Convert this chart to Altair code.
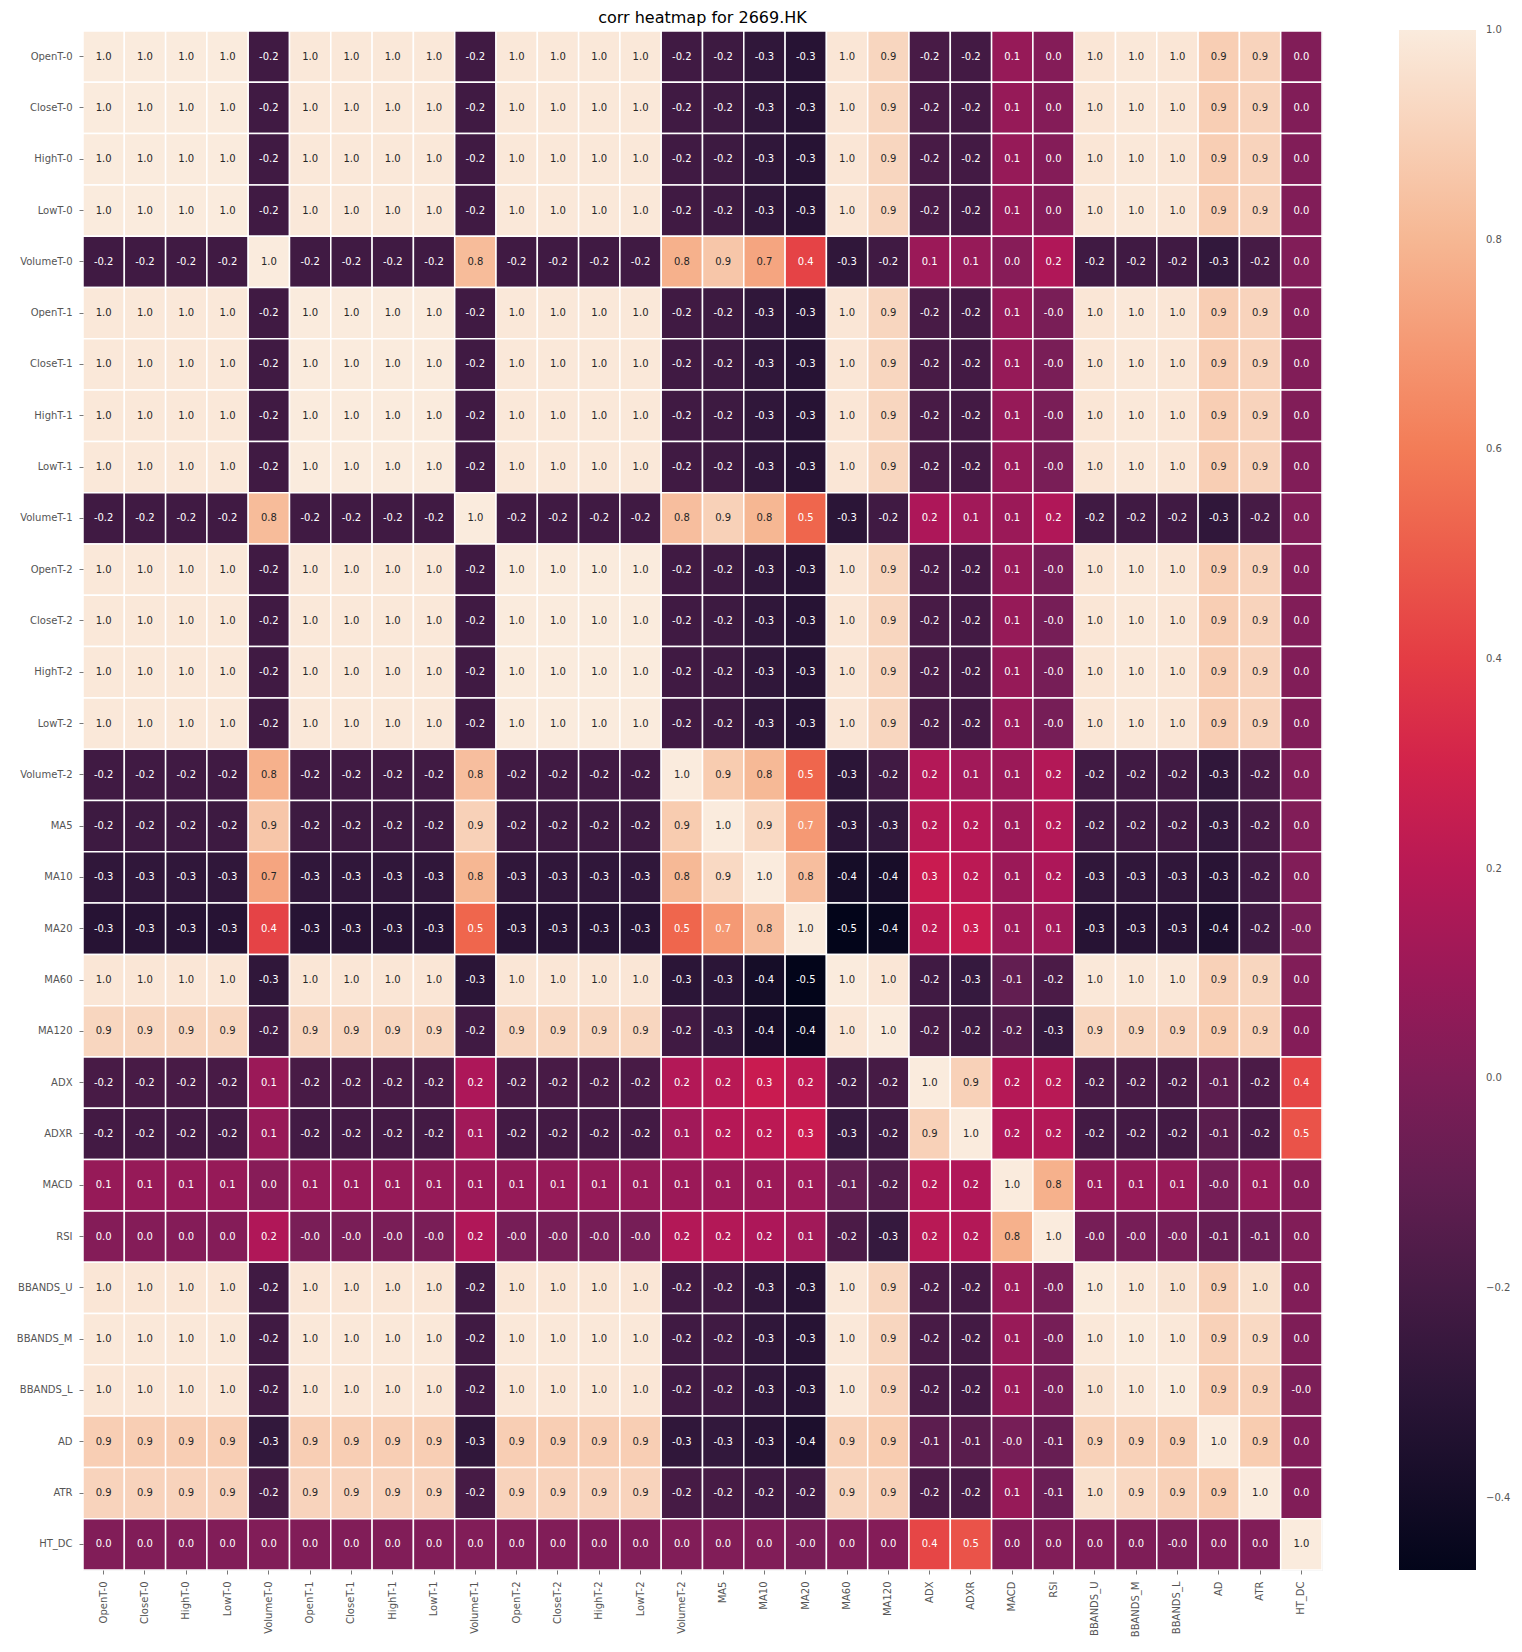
import altair as alt
import pandas as pd

labels = ["OpenT-0", "CloseT-0", "HighT-0", "LowT-0", "VolumeT-0",
          "OpenT-1", "CloseT-1", "HighT-1", "LowT-1", "VolumeT-1",
          "OpenT-2", "CloseT-2", "HighT-2", "LowT-2", "VolumeT-2",
          "MA5", "MA10", "MA20", "MA60", "MA120",
          "ADX", "ADXR", "MACD", "RSI",
          "BBANDS_U", "BBANDS_M", "BBANDS_L", "AD", "ATR", "HT_DC"]

# correlation rows (column order = labels)
row_price_t0 = [1.00, 1.00, 1.00, 1.00, -0.22, 0.99, 0.99, 0.99, 0.99, -0.22, 0.99, 0.99, 0.99, 0.99, -0.22,
                -0.23, -0.28, -0.32, 0.98, 0.92, -0.19, -0.21, 0.08, 0.02, 0.98, 0.99, 0.98, 0.89, 0.91, 0.01]
row_price_t1 = [0.99, 0.99, 0.99, 0.99, -0.22, 1.00, 1.00, 1.00, 1.00, -0.22, 0.99, 0.99, 0.99, 0.99, -0.22,
                -0.23, -0.28, -0.32, 0.98, 0.92, -0.19, -0.21, 0.08, -0.02, 0.98, 0.99, 0.98, 0.89, 0.91, 0.01]
row_price_t2 = [0.99, 0.99, 0.99, 0.99, -0.22, 0.99, 0.99, 0.99, 0.99, -0.22, 1.00, 1.00, 1.00, 1.00, -0.22,
                -0.23, -0.28, -0.32, 0.98, 0.92, -0.19, -0.21, 0.08, -0.03, 0.98, 0.99, 0.98, 0.89, 0.91, 0.01]
row_volume_t0 = [-0.22, -0.22, -0.22, -0.22, 1.00, -0.22, -0.22, -0.22, -0.22, 0.82, -0.22, -0.22, -0.22, -0.22, 0.78,
                 0.86, 0.74, 0.42, -0.28, -0.22, 0.10, 0.08, 0.03, 0.17, -0.22, -0.22, -0.22, -0.27, -0.20, 0.01]
row_volume_t1 = [-0.22, -0.22, -0.22, -0.22, 0.82, -0.22, -0.22, -0.22, -0.22, 1.00, -0.22, -0.22, -0.22, -0.22, 0.83,
                 0.90, 0.80, 0.53, -0.30, -0.22, 0.16, 0.12, 0.10, 0.17, -0.22, -0.22, -0.22, -0.28, -0.20, 0.01]
row_volume_t2 = [-0.22, -0.22, -0.22, -0.22, 0.78, -0.22, -0.22, -0.22, -0.22, 0.83, -0.22, -0.22, -0.22, -0.22, 1.00,
                 0.88, 0.81, 0.53, -0.30, -0.22, 0.18, 0.12, 0.10, 0.18, -0.22, -0.22, -0.22, -0.28, -0.20, 0.01]
row_ma5 = [-0.23, -0.23, -0.23, -0.23, 0.86, -0.23, -0.23, -0.23, -0.23, 0.90, -0.23, -0.23, -0.23, -0.23, 0.88,
           1.00, 0.93, 0.70, -0.30, -0.27, 0.20, 0.19, 0.10, 0.18, -0.22, -0.22, -0.22, -0.27, -0.20, 0.01]
row_ma10 = [-0.28, -0.28, -0.28, -0.28, 0.74, -0.28, -0.28, -0.28, -0.28, 0.80, -0.28, -0.28, -0.28, -0.28, 0.81,
            0.93, 1.00, 0.83, -0.39, -0.38, 0.26, 0.21, 0.10, 0.16, -0.28, -0.28, -0.28, -0.31, -0.22, 0.01]
row_ma20 = [-0.32, -0.32, -0.32, -0.32, 0.42, -0.32, -0.32, -0.32, -0.32, 0.53, -0.32, -0.32, -0.32, -0.32, 0.53,
            0.70, 0.83, 1.00, -0.47, -0.44, 0.22, 0.26, 0.10, 0.12, -0.32, -0.32, -0.32, -0.36, -0.22, -0.02]
row_ma60 = [0.98, 0.98, 0.98, 0.98, -0.28, 0.98, 0.98, 0.98, 0.98, -0.30, 0.98, 0.98, 0.98, 0.98, -0.30,
            -0.30, -0.39, -0.47, 1.00, 0.98, -0.22, -0.26, -0.10, -0.18, 0.99, 0.99, 0.99, 0.90, 0.92, 0.01]
row_ma120 = [0.92, 0.92, 0.92, 0.92, -0.22, 0.92, 0.92, 0.92, 0.92, -0.22, 0.92, 0.92, 0.92, 0.92, -0.22,
             -0.27, -0.38, -0.44, 0.98, 1.00, -0.20, -0.23, -0.16, -0.26, 0.92, 0.92, 0.91, 0.88, 0.90, 0.02]
row_adx = [-0.19, -0.19, -0.19, -0.19, 0.10, -0.19, -0.19, -0.19, -0.19, 0.16, -0.19, -0.19, -0.19, -0.19, 0.18,
           0.20, 0.26, 0.22, -0.22, -0.20, 1.00, 0.90, 0.19, 0.20, -0.19, -0.19, -0.19, -0.12, -0.18, 0.43]
row_adxr = [-0.21, -0.21, -0.21, -0.21, 0.08, -0.21, -0.21, -0.21, -0.21, 0.12, -0.21, -0.21, -0.21, -0.21, 0.12,
            0.19, 0.21, 0.26, -0.26, -0.23, 0.90, 1.00, 0.17, 0.18, -0.21, -0.21, -0.21, -0.13, -0.19, 0.47]
row_macd = [0.08, 0.08, 0.08, 0.08, 0.03, 0.08, 0.08, 0.08, 0.08, 0.10, 0.08, 0.08, 0.08, 0.08, 0.10,
            0.10, 0.10, 0.10, -0.10, -0.16, 0.19, 0.17, 1.00, 0.78, 0.09, 0.09, 0.09, -0.03, 0.08, 0.02]
row_rsi = [0.02, 0.02, 0.02, 0.02, 0.17, -0.02, -0.02, -0.02, -0.02, 0.17, -0.03, -0.03, -0.03, -0.03, 0.18,
           0.18, 0.16, 0.12, -0.18, -0.26, 0.20, 0.18, 0.78, 1.00, -0.03, -0.03, -0.03, -0.08, -0.07, 0.01]
row_bb_u = [0.98, 0.98, 0.98, 0.98, -0.22, 0.98, 0.98, 0.98, 0.98, -0.22, 0.98, 0.98, 0.98, 0.98, -0.22,
            -0.22, -0.28, -0.32, 0.99, 0.92, -0.19, -0.21, 0.09, -0.03, 1.00, 0.99, 0.97, 0.90, 0.96, 0.01]
row_bb_m = [0.99, 0.99, 0.99, 0.99, -0.22, 0.99, 0.99, 0.99, 0.99, -0.22, 0.99, 0.99, 0.99, 0.99, -0.22,
            -0.22, -0.28, -0.32, 0.99, 0.92, -0.19, -0.21, 0.09, -0.03, 0.99, 1.00, 0.99, 0.90, 0.93, 0.00]
row_bb_l = [0.98, 0.98, 0.98, 0.98, -0.22, 0.98, 0.98, 0.98, 0.98, -0.22, 0.98, 0.98, 0.98, 0.98, -0.22,
            -0.22, -0.28, -0.32, 0.99, 0.91, -0.19, -0.21, 0.09, -0.03, 0.97, 0.99, 1.00, 0.89, 0.90, -0.01]
row_ad = [0.89, 0.89, 0.89, 0.89, -0.27, 0.89, 0.89, 0.89, 0.89, -0.28, 0.89, 0.89, 0.89, 0.89, -0.28,
          -0.27, -0.31, -0.36, 0.90, 0.88, -0.12, -0.13, -0.03, -0.08, 0.90, 0.90, 0.89, 1.00, 0.88, 0.01]
row_atr = [0.91, 0.91, 0.91, 0.91, -0.20, 0.91, 0.91, 0.91, 0.91, -0.20, 0.91, 0.91, 0.91, 0.91, -0.20,
           -0.20, -0.22, -0.22, 0.92, 0.90, -0.18, -0.19, 0.08, -0.07, 0.96, 0.93, 0.90, 0.88, 1.00, 0.01]
row_ht_dc = [0.01, 0.01, 0.01, 0.01, 0.01, 0.01, 0.01, 0.01, 0.01, 0.01, 0.01, 0.01, 0.01, 0.01, 0.01,
             0.01, 0.01, -0.02, 0.01, 0.02, 0.43, 0.47, 0.02, 0.01, 0.01, 0.00, -0.01, 0.01, 0.01, 1.00]

corr_rows = {
    "OpenT-0": row_price_t0, "CloseT-0": row_price_t0, "HighT-0": row_price_t0, "LowT-0": row_price_t0,
    "VolumeT-0": row_volume_t0,
    "OpenT-1": row_price_t1, "CloseT-1": row_price_t1, "HighT-1": row_price_t1, "LowT-1": row_price_t1,
    "VolumeT-1": row_volume_t1,
    "OpenT-2": row_price_t2, "CloseT-2": row_price_t2, "HighT-2": row_price_t2, "LowT-2": row_price_t2,
    "VolumeT-2": row_volume_t2,
    "MA5": row_ma5, "MA10": row_ma10, "MA20": row_ma20, "MA60": row_ma60, "MA120": row_ma120,
    "ADX": row_adx, "ADXR": row_adxr, "MACD": row_macd, "RSI": row_rsi,
    "BBANDS_U": row_bb_u, "BBANDS_M": row_bb_m, "BBANDS_L": row_bb_l,
    "AD": row_ad, "ATR": row_atr, "HT_DC": row_ht_dc,
}

legend_ticks = [-0.4, -0.2, 0.0, 0.2, 0.4, 0.6, 0.8, 0.9999]
vmin, vmax = -0.469, 1.0
rocket_pos = [0.0, 1 / 7, 2 / 7, 3 / 7, 0.5, 4 / 7, 5 / 7, 6 / 7, 1.0]
rocket_colors = ["#03051a", "#35193e", "#701f57", "#ad1759", "#cb1b4f",
                 "#e13342", "#f37651", "#f6b48f", "#faebdd"]
color_domain = [vmin + p * (vmax - vmin) for p in rocket_pos]

records = []
for r in labels:
    for j, c in enumerate(labels):
        v = corr_rows[r][j]
        records.append({"row": r, "col": c, "value": v, "label": f"{v:.1f}"})
df = pd.DataFrame(records)

FONT = "DejaVu Sans"
GRAY = "#555555"

x_enc = alt.X("col:N", sort=labels,
              scale=alt.Scale(paddingInner=0, paddingOuter=0),
              axis=alt.Axis(title=None, labelAngle=270, labelFont=FONT, labelFontSize=10,
                            labelColor=GRAY, tickColor=GRAY, tickSize=4, tickWidth=0.8,
                            labelPadding=7, domain=False, grid=False, labelOverlap=False))
y_enc = alt.Y("row:N", sort=labels,
              scale=alt.Scale(paddingInner=0, paddingOuter=0),
              axis=alt.Axis(title=None, labelFont=FONT, labelFontSize=10,
                            labelColor=GRAY, tickColor=GRAY, tickSize=4, tickWidth=0.8,
                            labelPadding=7, domain=False, grid=False, labelOverlap=False))

base = alt.Chart(df).encode(x=x_enc, y=y_enc)

rect = base.mark_rect(stroke="white", strokeWidth=1.5).encode(
    color=alt.Color("value:Q",
                    scale=alt.Scale(domain=color_domain, range=rocket_colors, interpolate="rgb"),
                    legend=alt.Legend(title=None, orient="none", legendX=1316, legendY=-1,
                                      direction="vertical", gradientLength=1540,
                                      gradientThickness=77, values=legend_ticks, format=".1f",
                                      labelFont=FONT, labelFontSize=10, labelColor=GRAY,
                                      labelOffset=10, labelBaseline="middle",
                                      gradientStrokeWidth=0, labelOverlap=False))
)

text = base.mark_text(font=FONT, fontSize=10, align="center", baseline="middle").encode(
    text="label:N",
    color=alt.condition(alt.datum.value > 0.72, alt.value("#262626"), alt.value("#ffffff")),
)

chart = alt.layer(rect, text).properties(
    width=1239,
    height=1539,
    title=alt.TitleParams("corr heatmap for 2669.HK", font=FONT, fontSize=16,
                          fontWeight="normal", color="#000000", anchor="middle",
                          offset=-9, baseline="alphabetic", frame="group"),
    autosize=alt.AutoSizeParams(type="none"),
    padding={"left": 83, "top": 31, "right": 200, "bottom": 82},
).configure_view(stroke=None).configure(background="white")

chart.save("out.html", embed_options={"renderer": "svg", "actions": False})
